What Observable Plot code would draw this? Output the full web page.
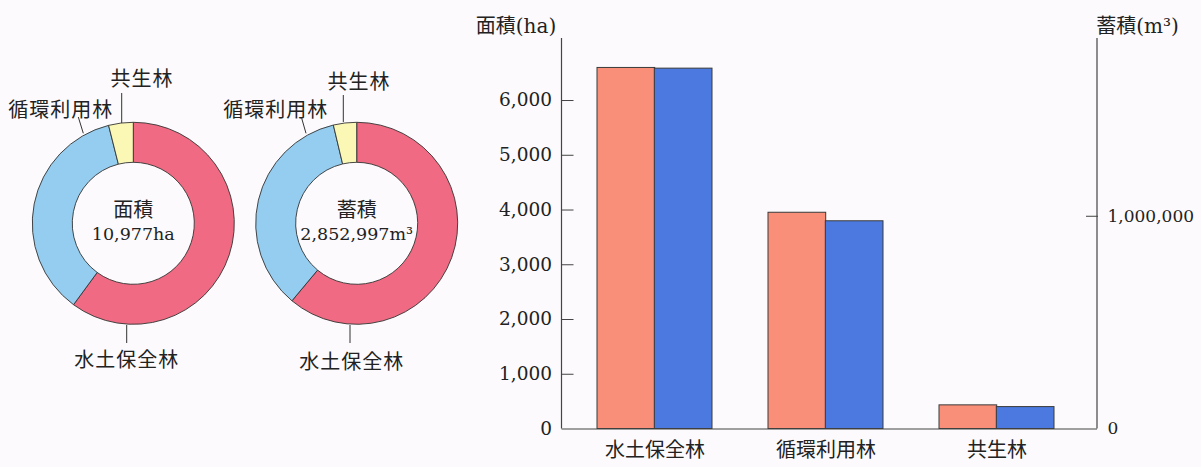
<!DOCTYPE html>
<html><head><meta charset="utf-8">
<script src="https://cdn.jsdelivr.net/npm/d3@7"></script>
<script src="https://cdn.jsdelivr.net/npm/@observablehq/plot@0.6"></script>
<style>
html,body{margin:0;padding:0;background:#fcfafc;}
#root{position:relative;width:1201px;height:467px;overflow:hidden;background:#fcfafc;}
#donuts{position:absolute;left:0;top:0;}
#bars{position:absolute;left:440px;top:0;}
</style></head><body><div id="root"><div id="donuts"></div><div id="bars"></div></div>
<script>
// ---- data ----
const categories = ["水土保全林", "循環利用林", "共生林"];
const areaHa = [6595, 3950, 432];
const volumeM3 = [1694000, 976500, 103000];
const donutTitles = ["面積", "蓄積"];
const donutTotals = ["10,977ha", "2,852,997m³"];
const areaTicks = [1000, 2000, 3000, 4000, 5000, 6000];
const areaTickLabels = [0, 1000, 2000, 3000, 4000, 5000, 6000];
const volumeTicks = [1000000];
const volumeTickLabels = [0, 1000000];
const axisTitles = ["面積(ha)", "蓄積(m³)"];

// ---- style ----
const CJK = "'Noto Sans CJK JP', sans-serif";
const NUM = "'DejaVu Serif', 'Noto Sans CJK JP', serif";
const INK = "#222";
const sliceColors = ["#ef6a82", "#94cdef", "#fbf8b6"];
const barColors = ["#f98e79", "#4b79e0"];

// ---- donuts ----
const R_OUT = 101, R_IN = 61;
const donutLayout = [
  {cx: 133.3, cy: 223.3,
   labels: [
     {t: 0, x: 126.7, y: 358.5, lx1: 126.7, ly1: 325, lx2: 126.7, ly2: 343},
     {t: 1, x: 60.8, y: 108.3, lx1: 83.3, ly1: 133.3, lx2: 78.3, ly2: 117},
     {t: 2, x: 142, y: 77, lx1: 121.7, ly1: 123, lx2: 121.7, ly2: 93}
   ]},
  {cx: 356.7, cy: 223.3,
   labels: [
     {t: 0, x: 351.7, y: 360, lx1: 350, ly1: 325, lx2: 350, ly2: 343},
     {t: 1, x: 275.8, y: 108.3, lx1: 306, ly1: 133.3, lx2: 301.7, ly2: 118.3},
     {t: 2, x: 359, y: 80, lx1: 343.3, ly1: 122, lx2: 343.3, ly2: 95}
   ]}
];
const donutValues = [areaHa, volumeM3];

function donutMark(k) {
  return () => {
    const L = donutLayout[k];
    const g = d3.create("svg:g");
    const pie = d3.pie().sort(null).value(d => d)(donutValues[k]);
    const arc = d3.arc().innerRadius(R_IN).outerRadius(R_OUT);
    const c = g.append("g").attr("transform", `translate(${L.cx},${L.cy})`);
    c.selectAll("path").data(pie).join("path")
      .attr("d", arc).attr("fill", (d, i) => sliceColors[i])
      .attr("stroke", "#333").attr("stroke-width", 0.9);
    c.append("text").attr("y", -15).attr("text-anchor", "middle").attr("dominant-baseline", "central")
      .attr("font-family", CJK).attr("font-size", 20).attr("fill", INK).text(donutTitles[k]);
    c.append("text").attr("y", 11).attr("text-anchor", "middle").attr("dominant-baseline", "central")
      .attr("font-family", NUM).attr("font-size", 17.5).attr("fill", INK).text(donutTotals[k]);
    for (const lb of L.labels) {
      g.append("line").attr("x1", lb.lx1).attr("y1", lb.ly1).attr("x2", lb.lx2).attr("y2", lb.ly2)
        .attr("stroke", "#333").attr("stroke-width", 1);
      g.append("text").attr("x", lb.x).attr("y", lb.y).attr("text-anchor", "middle")
        .attr("dominant-baseline", "central").attr("font-family", CJK).attr("font-size", 20)
        .attr("letter-spacing", 1).attr("fill", INK).text(categories[lb.t]);
    }
    return g.node();
  };
}

const donutPlot = Plot.plot({
  width: 440, height: 467, margin: 0,
  style: {background: "transparent", overflow: "visible"},
  marks: [donutMark(0), donutMark(1)]
});
document.getElementById("donuts").append(donutPlot);

// ---- bars ----
const AREA_MAX = 7133, VOL_MAX = 1835700;
const ratio = VOL_MAX / AREA_MAX;
const rows = categories.map((c, i) => ({cat: c, area: areaHa[i], vol: volumeM3[i] / ratio}));
const HALF = 57.3;
const fmt = d3.format(",");

// vertical axis lines at both frame edges
const axisLines = (index, scales, values, dims) => {
  const g = d3.create("svg:g").attr("stroke", "#444").attr("stroke-width", 1.2);
  for (const x of [dims.marginLeft, dims.width - dims.marginRight]) {
    g.append("line").attr("x1", x).attr("x2", x)
      .attr("y1", dims.marginTop).attr("y2", dims.height - dims.marginBottom);
  }
  return g.node();
};

const barPlot = Plot.plot({
  width: 761, height: 467,
  marginLeft: 121.5, marginRight: 104, marginTop: 38, marginBottom: 38.5,
  style: {background: "transparent", overflow: "visible", color: INK},
  x: {domain: categories, paddingInner: 0.33, paddingOuter: 0.23, align: 0.45, axis: null},
  y: {domain: [0, AREA_MAX], axis: null},
  marks: [
    Plot.barY(rows, {x: "cat", y: "area", fill: barColors[0], stroke: "#3a3a3a", strokeWidth: 1, insetRight: HALF}),
    Plot.barY(rows, {x: "cat", y: "vol", fill: barColors[1], stroke: "#3a3a3a", strokeWidth: 1, insetLeft: HALF}),
    Plot.ruleY([0], {stroke: "#444", strokeWidth: 1.2}),
    axisLines,
    // left ticks (inward) and labels
    Plot.axisY({anchor: "left", ticks: areaTicks, tickFormat: () => "", tickSize: -12, stroke: "#444", label: null}),
    Plot.axisY({anchor: "left", ticks: areaTickLabels, tickFormat: fmt, tickSize: 0, tickPadding: 10,
      fontSize: 18.5, fontFamily: NUM, fill: INK, label: null}),
    // right ticks (inward) and labels
    Plot.axisY({anchor: "right", ticks: volumeTicks.map(v => v / ratio), tickFormat: () => "", tickSize: -12,
      stroke: "#444", label: null}),
    Plot.axisY({anchor: "right", ticks: volumeTickLabels.map(v => v / ratio), tickFormat: v => fmt(Math.round(v * ratio)),
      tickSize: 0, tickPadding: 10, fontSize: 17, fontFamily: NUM, fill: INK, label: null}),
    Plot.axisX({anchor: "bottom", tickSize: 0, tickPadding: 14, fontSize: 20, fontFamily: CJK, fill: INK, label: null}),
    Plot.text([axisTitles[0]], {frameAnchor: "top-left", dx: -46, dy: -20, textAnchor: "middle",
      fontSize: 20, fontFamily: NUM, fill: INK}),
    Plot.text([axisTitles[1]], {frameAnchor: "top-right", dx: 40, dy: -20, textAnchor: "middle",
      fontSize: 20, fontFamily: NUM, fill: INK})
  ]
});
document.getElementById("bars").append(barPlot);
</script></body></html>
